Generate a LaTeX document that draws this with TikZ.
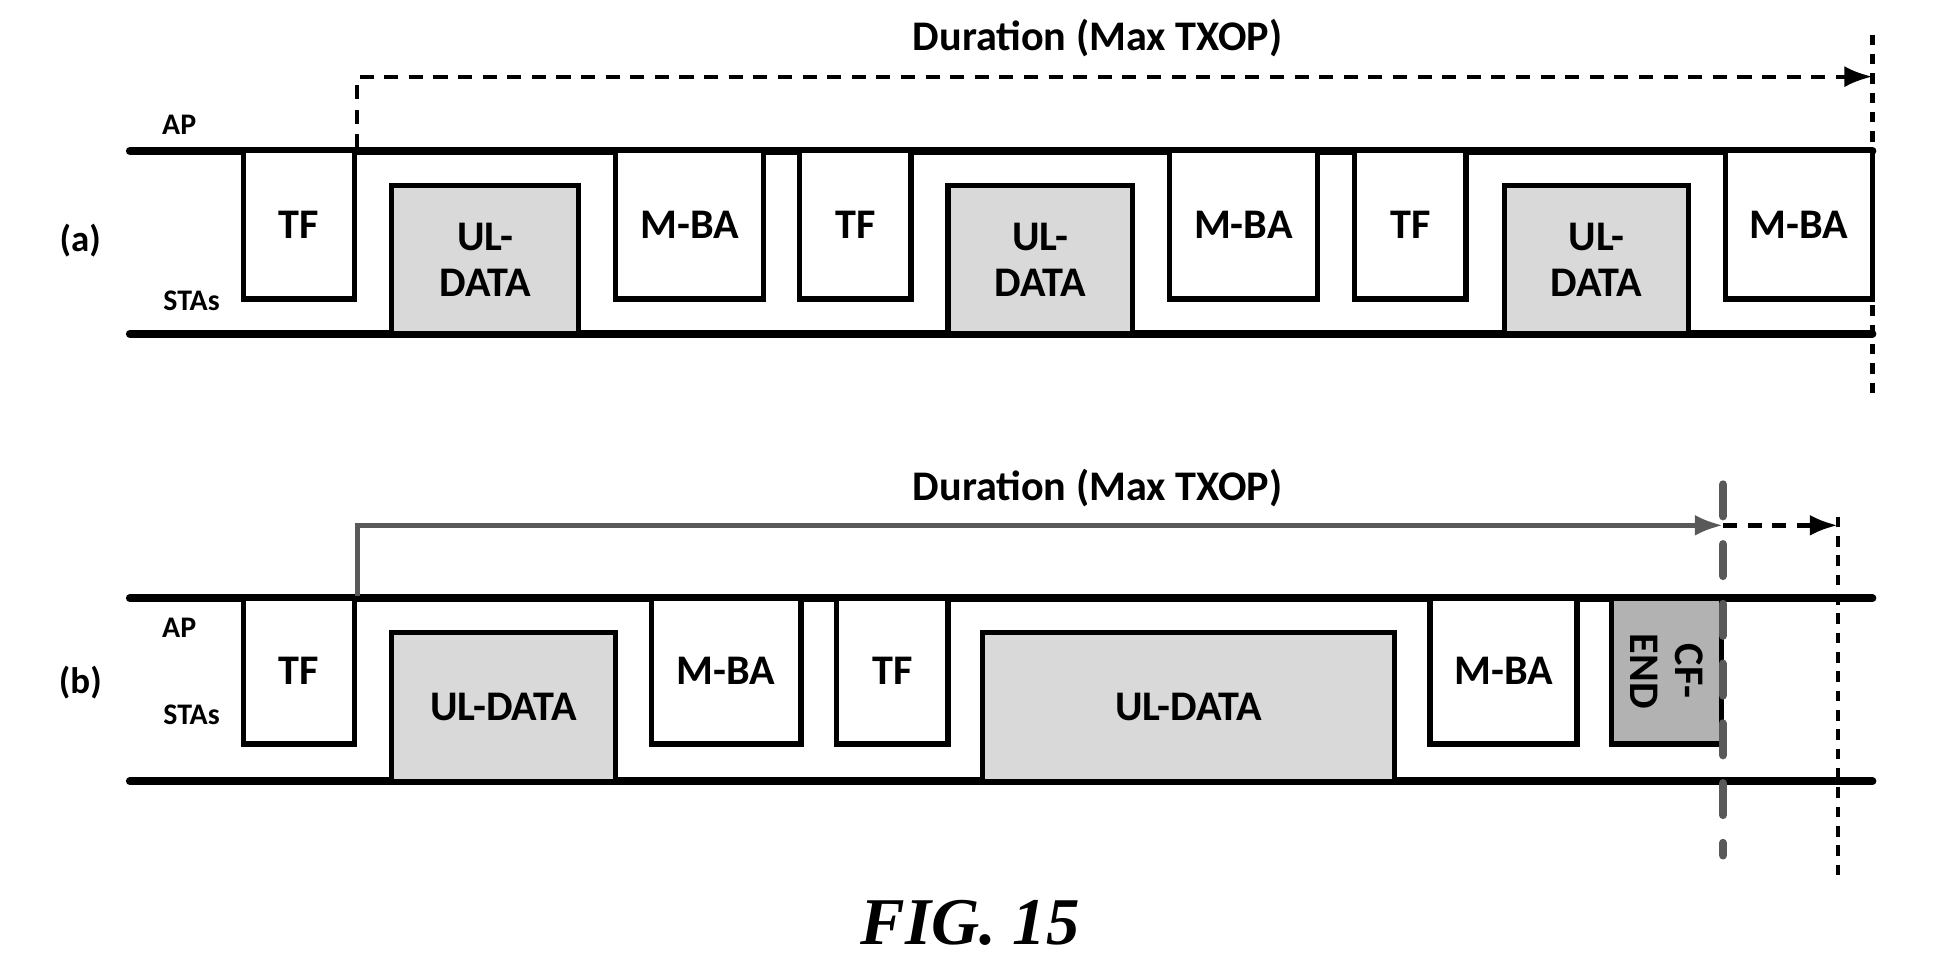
\documentclass[tikz,border=0pt]{standalone}
\usepackage{fontspec}
\setmainfont{Carlito}
\newfontfamily\figfont{Liberation Serif}
\usetikzlibrary{arrows.meta}

\tikzset{
    frame/.style={draw, line width=1.5pt, align=center, inner sep=0pt,
        font=\bfseries\fontsize{12}{13}\selectfont},
    apbox/.style={frame, fill=white},
    stabox/.style={frame, fill=gray!30},
    cfbox/.style={frame, fill=gray!60},
    medium/.style={line width=2.2pt, line cap=round},
    lbl/.style={font=\bfseries\fontsize{8.5}{9}\selectfont},
    sub/.style={font=\bfseries\fontsize{10.5}{11}\selectfont},
    title/.style={font=\bfseries\fontsize{12}{13}\selectfont},
}

% packet box between x1 and x2, y1 and y2
\newcommand{\pkt}[7]{%
    \node[#7, minimum width={(#3-#2)*0.01236cm}, minimum height={(#5-#4)*0.01236cm}]
        (#1) at ({(#2+#3)/2}, {(#4+#5)/2}) {#6};}

\begin{document}
\begin{tikzpicture}[x=0.01236cm, y=-0.01236cm]
    \useasboundingbox (0,0) rectangle (1568,782);

    % (a)
    \node[title] (ta) at (888,31) {Duration (Max TXOP)};
    \node[sub] (la) at (65,195) {(a)};
    \node[lbl] (apa) at (145,101) {AP};
    \node[lbl] (staa) at (155,243) {STAs};
    \coordinate (a1) at (105,122); \coordinate (a2) at (1515,122);
    \coordinate (a3) at (105,270); \coordinate (a4) at (1515,270);
    \draw[medium] (a1) -- (a2);
    \draw[medium] (a3) -- (a4);
    \pkt{tfa1}{197}{287}{122}{242}{TF}{apbox}
    \pkt{ula1}{317}{468}{150}{270}{UL-\\DATA}{stabox}
    \pkt{baa1}{498}{618}{122}{242}{M-BA}{apbox}
    \pkt{tfa2}{647}{737}{122}{242}{TF}{apbox}
    \pkt{ula2}{767}{916}{150}{270}{UL-\\DATA}{stabox}
    \pkt{baa2}{946}{1066}{122}{242}{M-BA}{apbox}
    \pkt{tfa3}{1096}{1186}{122}{242}{TF}{apbox}
    \pkt{ula3}{1217}{1366}{150}{270}{UL-\\DATA}{stabox}
    \pkt{baa3}{1396}{1515}{122}{242}{M-BA}{apbox}
    \coordinate (da1) at (1515,28); \coordinate (da2) at (1515,325);
    \coordinate (dk) at (1515,62);
    \draw[line width=1.2pt, dash pattern=on 3pt off 2.5pt] (da1) -- (da2);
    \draw[line width=1.2pt, dash pattern=on 4pt off 3pt, -{Latex[length=8pt,width=6pt]}]
        (tfa1.north east) |- (dk);

    % (b)
    \node[title] (tb) at (888,395) {Duration (Max TXOP)};
    \node[sub] (lb) at (65,552) {(b)};
    \node[lbl] (apb) at (145,508) {AP};
    \node[lbl] (stab) at (155,578) {STAs};
    \coordinate (b1) at (105,484); \coordinate (b2) at (1515,484);
    \coordinate (b3) at (105,632); \coordinate (b4) at (1515,632);
    \draw[medium] (b1) -- (b2);
    \draw[medium] (b3) -- (b4);
    \pkt{tfb1}{197}{287}{484}{602}{TF}{apbox}
    \pkt{ulb1}{317}{498}{512}{632}{UL-DATA}{stabox}
    \pkt{bab1}{527}{648}{484}{602}{M-BA}{apbox}
    \pkt{tfb2}{677}{767}{484}{602}{TF}{apbox}
    \pkt{ulb2}{795}{1128}{512}{632}{UL-DATA}{stabox}
    \pkt{bab2}{1157}{1276}{484}{602}{M-BA}{apbox}
    \pkt{cfb}{1304}{1393}{484}{602}{}{cfbox}
    \node[rotate=-90, align=center, font=\bfseries\fontsize{12}{13}\selectfont]
        (cft) at (cfb) {CF-\\END};
    \coordinate (ea1) at (1394,392); \coordinate (ea2) at (1394,692);
    \coordinate (eb1) at (1487,418); \coordinate (eb2) at (1487,712);
    \coordinate (ek) at (1394,425);
    \draw[gray!70!black, line width=2.4pt, line cap=round, dash pattern=on 9pt off 8pt] (ea1) -- (ea2);
    \draw[line width=1.2pt, dash pattern=on 3pt off 2.5pt] (eb1) -- (eb2);
    \draw[gray!70!black, line width=1.4pt, -{Latex[length=8pt,width=6pt]}]
        (tfb1.north east) |- (ek);
    \draw[line width=1.4pt, dash pattern=on 4pt off 3pt, -{Latex[length=8pt,width=6pt]}]
        (ek) -- (eb1 |- ek);

    \node[font=\figfont\bfseries\itshape\fontsize{19}{22}\selectfont] (fig) at (785,747) {FIG. 15};
\end{tikzpicture}
\end{document}
